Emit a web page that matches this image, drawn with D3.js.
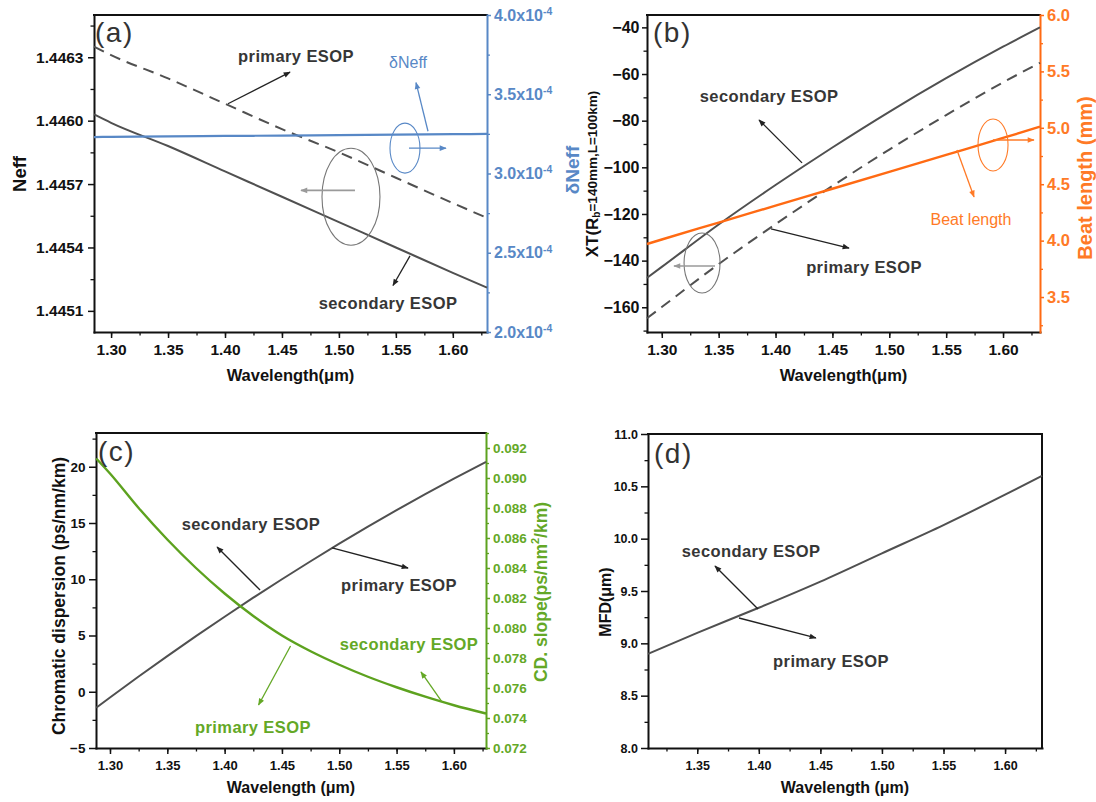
<!DOCTYPE html>
<html><head><meta charset="utf-8">
<script src="https://cdn.jsdelivr.net/npm/d3@7"></script>
<style>body{margin:0;background:#fff}</style>
</head><body>
<script>
// ---------------- DATA ----------------
const wlA = [1.285, 1.30, 1.35, 1.40, 1.45, 1.50, 1.55, 1.60, 1.63];
const neffPrimary = [1.44635, 1.44631, 1.44620, 1.44608, 1.44596, 1.44585, 1.44573, 1.44561, 1.44554];
const neffSecondary = [1.44603, 1.44599, 1.44588, 1.44576, 1.44564, 1.44552, 1.44540, 1.44528, 1.44521];
const deltaNeff = [3.230e-4, 3.231e-4, 3.234e-4, 3.237e-4, 3.239e-4, 3.242e-4, 3.245e-4, 3.248e-4, 3.250e-4];

const wlB = [1.287, 1.30, 1.35, 1.40, 1.45, 1.50, 1.55, 1.60, 1.6325];
const xtSecondary = [-147.4, -142.7, -124.5, -107.6, -91.5, -76.2, -61.8, -48.3, -40.0];
const xtPrimary = [-164.7, -159.9, -141.5, -124.4, -108.0, -92.4, -77.6, -63.6, -55.2];
const beatLength = [3.97, 4.01, 4.16, 4.31, 4.46, 4.61, 4.76, 4.91, 5.01];

const wlC = [1.288, 1.30, 1.325, 1.35, 1.375, 1.40, 1.425, 1.45, 1.475, 1.50, 1.525, 1.55, 1.575, 1.60, 1.628];
const cdValues = [-1.42, -0.51, 1.35, 3.17, 4.94, 6.67, 8.36, 10.00, 11.60, 13.16, 14.67, 16.14, 17.56, 18.94, 20.43];
const cdSlope = [0.0913, 0.0903, 0.0880, 0.0859, 0.0840, 0.0823, 0.0808, 0.0795, 0.07845, 0.07755, 0.07675, 0.07605, 0.07542, 0.07485, 0.0743];

const wlD = [1.31, 1.35, 1.40, 1.45, 1.50, 1.55, 1.60, 1.63];
const mfdValues = [8.90, 9.10, 9.34, 9.59, 9.86, 10.13, 10.42, 10.60];

// tick labels
const xTicks = [1.30, 1.35, 1.40, 1.45, 1.50, 1.55, 1.60];
const xTicksD = [1.35, 1.40, 1.45, 1.50, 1.55, 1.60];
const neffTicks = [1.4451, 1.4454, 1.4457, 1.4460, 1.4463];
const dNeffTicks = [2.0e-4, 2.5e-4, 3.0e-4, 3.5e-4, 4.0e-4];
const xtTicks = [-160, -140, -120, -100, -80, -60, -40];
const beatTicks = [3.5, 4.0, 4.5, 5.0, 5.5, 6.0];
const cdTicks = [-5, 0, 5, 10, 15, 20];
const slopeTicks = [0.072, 0.074, 0.076, 0.078, 0.080, 0.082, 0.084, 0.086, 0.088, 0.090, 0.092];
const mfdTicks = [8.0, 8.5, 9.0, 9.5, 10.0, 10.5, 11.0];

// ---------------- STYLE ----------------
const FONT = '"Liberation Sans", Arial, Helvetica, sans-serif';
const COL = {dark:"#505050", text:"#363636", blue:"#5888c6", orange:"#ff6a13", orangeT:"#ff7a26", green:"#5da21f", greenT:"#64a826", gray:"#8a8a8a"};

const svg = d3.select("body").append("svg").attr("width",1096).attr("height",802)
  .style("font-family",FONT);
const defs = svg.append("defs");
function marker(id,color){
  defs.append("marker").attr("id",id).attr("viewBox","0 0 10 10")
    .attr("refX",9).attr("refY",5).attr("markerWidth",9).attr("markerHeight",7)
    .attr("markerUnits","userSpaceOnUse").attr("orient","auto")
    .append("path").attr("d","M0,1L10,5L0,9Z").attr("fill",color);
}
marker("m-dark","#222"); marker("m-blue",COL.blue); marker("m-orange",COL.orangeT);
marker("m-green",COL.greenT); marker("m-gray","#9a9a9a");

function steps(a,b,s){ const out=[]; for(let v=a; v<=b+1e-12; v+=s) out.push(+v.toFixed(7)); return out; }

function axis(g, kind, scale, pos, major, minor, o){
  const mk = {bottom:d3.axisBottom,left:d3.axisLeft,right:d3.axisRight}[kind];
  const tr = kind==="bottom" ? `translate(0,${pos})` : `translate(${pos},0)`;
  g.append("g").attr("transform",tr)
    .call(mk(scale).tickValues(minor).tickSize(o.minor||3.5).tickFormat("").tickSizeOuter(0))
    .call(s=>{s.select(".domain").remove(); s.selectAll("line").attr("stroke",o.color).attr("stroke-width",1.3);});
  const a = g.append("g").attr("transform",tr)
    .call(mk(scale).tickValues(major).tickSize(o.major||6).tickPadding(o.pad).tickFormat(o.fmt||"").tickSizeOuter(0));
  a.attr("font-family",FONT);
  a.select(".domain").attr("stroke",o.color).attr("stroke-width",2).attr("stroke-linecap","square");
  a.selectAll(".tick line").attr("stroke",o.color).attr("stroke-width",1.5);
  a.selectAll("text").attr("fill",o.tcolor||o.color).attr("font-size",o.fs).attr("font-weight","bold");
  return a;
}
function label(g,x,y,txt,o){
  const t = g.append("text").attr("x",x).attr("y",y).attr("text-anchor",o.anchor||"middle")
    .attr("dominant-baseline",o.base||"middle")
    .attr("font-size",o.fs).attr("font-weight",o.bold?"bold":"normal").attr("fill",o.color)
    .text(txt);
  if(o.ls) t.attr("letter-spacing",o.ls);
  return t;
}
function vlabel(g,x,y,txt,o){
  return g.append("text").attr("transform",`translate(${x},${y}) rotate(-90)`)
    .attr("text-anchor","middle").attr("dominant-baseline","central")
    .attr("font-size",o.fs).attr("font-weight","bold").attr("fill",o.color).text(txt);
}
function arrow(g,x1,y1,x2,y2,color,m,w){
  g.append("line").attr("x1",x1).attr("y1",y1).attr("x2",x2).attr("y2",y2)
    .attr("stroke",color).attr("stroke-width",w||1.3).attr("marker-end",`url(#${m})`);
}
function ellipse(g,cx,cy,rx,ry,color){
  g.append("ellipse").attr("cx",cx).attr("cy",cy).attr("rx",rx).attr("ry",ry)
    .attr("fill","none").attr("stroke",color).attr("stroke-width",1.1);
}
function frameTop(g,x0,x1,y0){
  g.append("line").attr("x1",x0).attr("x2",x1).attr("y1",y0).attr("y2",y0)
    .attr("stroke","#111").attr("stroke-width",2).attr("stroke-linecap","square");
}
function curve(g,xs,ys,x,y,color,w,dash){
  const p = g.append("path").datum(d3.zip(xs,ys))
    .attr("d", d3.line().x(d=>x(d[0])).y(d=>y(d[1])).curve(d3.curveMonotoneX))
    .attr("fill","none").attr("stroke",color).attr("stroke-width",w);
  if(dash) p.attr("stroke-dasharray",dash);
}
function panelTag(g,x,y,txt){
  g.append("text").attr("x",x).attr("y",y).attr("font-size",28).attr("fill","#333")
    .attr("letter-spacing",1.5).text(txt);
}

// ---------------- PANEL (a) ----------------
{
  const P = {x0:94,x1:487,y0:15,y1:332};
  const g = svg.append("g");
  const x = d3.scaleLinear().domain([1.285,1.63]).range([P.x0,P.x1]);
  const y = d3.scaleLinear().domain([1.4450,1.4465]).range([P.y1,P.y0]);
  const y2 = d3.scaleLinear().domain([2.0e-4,4.0e-4]).range([P.y1,P.y0]);
  frameTop(g,P.x0,P.x1,P.y0);
  axis(g,"bottom",x,P.y1,xTicks,steps(1.275,1.625,0.025).filter(v=>v>=1.285&&v<=1.63),{color:"#111",fs:15.5,pad:6,fmt:d3.format(".2f")});
  axis(g,"left",y,P.x0,neffTicks,steps(1.44525,1.4465,0.0003),{color:"#111",fs:15.5,pad:4.5,fmt:d3.format(".4f")});
  const r = axis(g,"right",y2,P.x1,dNeffTicks,steps(2.25e-4,3.75e-4,0.5e-4),{color:COL.blue,fs:16,pad:3,major:4,minor:3});
  r.selectAll(".tick text").each(function(d){
    const t = d3.select(this); t.text(null);
    t.append("tspan").text((d*1e4).toFixed(1)+"x10");
    t.append("tspan").attr("dy","-0.55em").attr("font-size","0.65em").text("-4");
  });
  curve(g,wlA,neffPrimary,x,y,COL.dark,2,"11,7");
  curve(g,wlA,neffSecondary,x,y,COL.dark,2);
  curve(g,wlA,deltaNeff,x,y2,COL.blue,2.2);
  panelTag(g,P.x0+1,P.y0+27,"(a)");
  // annotations
  label(g,x(1.4623),y(1.44630),"primary ESOP",{fs:16.5,bold:true,color:COL.text,ls:0.4});
  arrow(g,x(1.4026),y(1.44608),x(1.4571),y(1.44623),"#222","m-dark");
  label(g,x(1.5607),y(1.44627),"δNeff",{fs:16,color:COL.blue});
  arrow(g,x(1.5782),y(1.44595),x(1.5677),y(1.44618),COL.blue,"m-blue");
  ellipse(g,x(1.5580),y(1.44587),15,25,COL.blue);
  arrow(g,x(1.5615),y(1.44587),x(1.5940),y(1.44587),COL.blue,"m-blue");
  ellipse(g,x(1.5106),y(1.44564),29,48.5,"#777");
  arrow(g,x(1.5141),y(1.44567),x(1.4667),y(1.44567),"#9a9a9a","m-gray",1.6);
  arrow(g,x(1.5624),y(1.44536),x(1.5475),y(1.44522),"#222","m-dark");
  label(g,x(1.5431),y(1.44513),"secondary ESOP",{fs:16.5,bold:true,color:COL.text,ls:0.4});
  // titles
  vlabel(g,19,174,"Neff",{fs:18.5,color:"#111"});
  vlabel(g,572,170,"δNeff",{fs:19,color:COL.blue});
  label(g,(P.x0+P.x1)/2,377,"Wavelength(μm)",{fs:16.5,bold:true,color:"#111"});
}

// ---------------- PANEL (b) ----------------
{
  const P = {x0:647,x1:1040,y0:15,y1:332};
  const g = svg.append("g");
  const x = d3.scaleLinear().domain([1.287,1.6325]).range([P.x0,P.x1]);
  const y = d3.scaleLinear().domain([-170.6,-34.7]).range([P.y1,P.y0]);
  const y2 = d3.scaleLinear().domain([3.19,6.0]).range([P.y1,P.y0]);
  frameTop(g,P.x0,P.x1,P.y0);
  axis(g,"bottom",x,P.y1,xTicks,steps(1.275,1.625,0.025).filter(v=>v>=1.287&&v<=1.6325),{color:"#111",fs:15.5,pad:6,fmt:d3.format(".2f")});
  axis(g,"left",y,P.x0,xtTicks,steps(-170,-50,20),{color:"#111",fs:16,pad:2.5,major:5,fmt:d3.format("d")});
  axis(g,"right",y2,P.x1,beatTicks,steps(3.25,5.75,0.5),{color:COL.orange,tcolor:COL.orangeT,fs:16.5,pad:3,major:4,minor:3,fmt:d3.format(".1f")});
  curve(g,wlB,xtSecondary,x,y,COL.dark,2);
  curve(g,wlB,xtPrimary,x,y,COL.dark,2,"11,7");
  curve(g,wlB,beatLength,x,y2,COL.orange,2.4);
  panelTag(g,P.x0+6,P.y0+27,"(b)");
  label(g,x(1.3943),y(-70.3),"secondary ESOP",{fs:16.5,bold:true,color:COL.text,ls:0.4});
  arrow(g,x(1.4233),y(-98.1),x(1.3855),y(-79.7),"#222","m-dark");
  label(g,x(1.4778),y(-143.6),"primary ESOP",{fs:16.5,bold:true,color:COL.text,ls:0.4});
  arrow(g,x(1.3960),y(-126.4),x(1.4646),y(-134.6),"#222","m-dark");
  label(g,x(1.5718),y2(4.174),"Beat length",{fs:16,color:COL.orangeT});
  arrow(g,x(1.5595),y2(4.803),x(1.5745),y2(4.387),COL.orangeT,"m-orange");
  ellipse(g,x(1.5912),y2(4.848),15,26,COL.orangeT);
  arrow(g,x(1.5912),y2(4.892),x(1.6272),y2(4.892),COL.orangeT,"m-orange");
  ellipse(g,x(1.3354),y(-141.0),18,30,"#777");
  arrow(g,x(1.3468),y(-142.3),x(1.3107),y(-142.3),"#9a9a9a","m-gray",1.6);
  // titles
  const t = g.append("text").attr("transform","translate(592,174) rotate(-90)")
    .attr("text-anchor","middle").attr("dominant-baseline","central").attr("font-weight","bold").attr("fill","#111");
  t.append("tspan").attr("font-size",17).text("XT(R");
  t.append("tspan").attr("font-size",10).attr("dy",4).text("b");
  t.append("tspan").attr("font-size",13.5).attr("dy",-4).text("=140mm,L=100km)");
  vlabel(g,1085,178,"Beat length (mm)",{fs:20,color:COL.orangeT});
  label(g,(P.x0+P.x1)/2,377,"Wavelength(μm)",{fs:16.5,bold:true,color:"#111"});
}

// ---------------- PANEL (c) ----------------
{
  const P = {x0:96,x1:486,y0:433,y1:748};
  const g = svg.append("g");
  const x = d3.scaleLinear().domain([1.2878,1.628]).range([P.x0,P.x1]);
  const y = d3.scaleLinear().domain([-5,23]).range([P.y1,P.y0]);
  const y2 = d3.scaleLinear().domain([0.072,0.093]).range([P.y1,P.y0]);
  frameTop(g,P.x0,P.x1,P.y0);
  axis(g,"bottom",x,P.y1,xTicks,steps(1.275,1.625,0.025).filter(v=>v>=1.2878&&v<=1.628),{color:"#111",fs:13,pad:7,major:6,fmt:d3.format(".2f")});
  axis(g,"left",y,P.x0,cdTicks,steps(-2.5,22.5,5),{color:"#111",fs:13.5,pad:3.5,major:7,fmt:d3.format("d")});
  axis(g,"right",y2,P.x1,slopeTicks,steps(0.073,0.093,0.002),{color:COL.green,tcolor:COL.greenT,fs:13.5,pad:3,major:4,minor:3,fmt:d3.format(".3f")});
  curve(g,wlC,cdValues,x,y,COL.dark,2);
  curve(g,wlC,cdSlope,x,y2,COL.green,2.4);
  panelTag(g,P.x0+2,P.y0+28,"(c)");
  label(g,x(1.4230),y(14.73),"secondary ESOP",{fs:16.5,bold:true,color:COL.text,ls:0.4});
  arrow(g,x(1.4309),y(9.04),x(1.3934),y(12.87),"#222","m-dark");
  label(g,x(1.5521),y(9.31),"primary ESOP",{fs:16.5,bold:true,color:COL.text,ls:0.4});
  arrow(g,x(1.4937),y(12.78),x(1.5600),y(11.0),"#222","m-dark");
  label(g,x(1.5608),y2(0.0788),"secondary ESOP",{fs:16.5,bold:true,color:COL.greenT,ls:0.4});
  arrow(g,x(1.5896),y2(0.07507),x(1.5713),y2(0.07707),COL.greenT,"m-green");
  label(g,x(1.4247),y2(0.07327),"primary ESOP",{fs:16.5,bold:true,color:COL.greenT,ls:0.4});
  arrow(g,x(1.4575),y2(0.0788),x(1.4296),y2(0.07487),COL.greenT,"m-green");
  vlabel(g,59,596,"Chromatic dispersion (ps/nm/km)",{fs:17.5,color:"#111"});
  const t = g.append("text").attr("transform","translate(541,592) rotate(-90)")
    .attr("text-anchor","middle").attr("dominant-baseline","central").attr("font-weight","bold")
    .attr("font-size",17.5).attr("fill",COL.greenT);
  t.append("tspan").text("CD. slope(ps/nm");
  t.append("tspan").attr("font-size",11).attr("dy",-6).text("2");
  t.append("tspan").attr("dy",6).text("/km)");
  label(g,(P.x0+P.x1)/2,789,"Wavelength (μm)",{fs:16,bold:true,color:"#111"});
}

// ---------------- PANEL (d) ----------------
{
  const P = {x0:648,x1:1042,y0:434,y1:748};
  const g = svg.append("g");
  const x = d3.scaleLinear().domain([1.31,1.63]).range([P.x0,P.x1]);
  const y = d3.scaleLinear().domain([8,11]).range([P.y1,P.y0]);
  frameTop(g,P.x0,P.x1,P.y0);
  g.append("line").attr("x1",P.x1).attr("x2",P.x1).attr("y1",P.y0).attr("y2",P.y1)
    .attr("stroke","#111").attr("stroke-width",2).attr("stroke-linecap","square");
  axis(g,"bottom",x,P.y1,xTicksD,steps(1.325,1.625,0.025),{color:"#111",fs:12.5,pad:7,major:6,fmt:d3.format(".2f")});
  axis(g,"left",y,P.x0,mfdTicks,steps(8.25,10.75,0.5),{color:"#111",fs:12.5,pad:3,major:7,fmt:d3.format(".1f")});
  curve(g,wlD,mfdValues,x,y,COL.dark,2);
  panelTag(g,P.x0+6,P.y0+29,"(d)");
  label(g,x(1.3937),y(9.863),"secondary ESOP",{fs:16.5,bold:true,color:COL.text,ls:0.4});
  arrow(g,x(1.3993),y(9.328),x(1.3644),y(9.739),"#222","m-dark");
  label(g,x(1.4586),y(8.812),"primary ESOP",{fs:16.5,bold:true,color:COL.text,ls:0.4});
  arrow(g,x(1.3839),y(9.242),x(1.4464),y(9.051),"#222","m-dark");
  vlabel(g,605,602,"MFD(μm)",{fs:16,color:"#111"});
  label(g,(P.x0+P.x1)/2,789,"Wavelength (μm)",{fs:16,bold:true,color:"#111"});
}
</script>
</body></html>
